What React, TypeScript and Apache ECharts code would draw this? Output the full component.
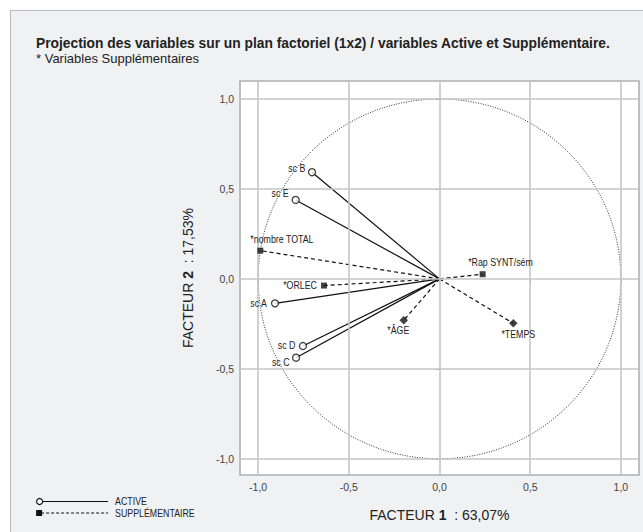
import React, { useEffect, useRef } from "react";
import * as echarts from "echarts";

const ACTIVE_NAMES = ["sc A", "sc B", "sc C", "sc D", "sc E"];
const ACTIVE_X = [-0.907, -0.703, -0.791, -0.753, -0.793];
const ACTIVE_Y = [-0.136, 0.593, -0.438, -0.373, 0.439];

const SUPP_NAMES = ["*nombre TOTAL", "*ORLEC", "*Rap SYNT/sém", "*ÂGE", "*TEMPS"];
const SUPP_X = [-0.988, -0.637, 0.238, -0.197, 0.407];
const SUPP_Y = [0.157, -0.037, 0.026, -0.23, -0.247];

const TICKS = [-1, -0.5, 0, 0.5, 1];

const TITLE = "Projection des variables sur un plan factoriel (1x2) / variables Active et Supplémentaire.";
const SUBTITLE = "* Variables Supplémentaires";
const X_NAME = ["FACTEUR ", "1", "  : 63,07%"];
const Y_NAME = ["FACTEUR ", "2", "  : 17,53%"];
const LEGEND = ["ACTIVE", "SUPPLÉMENTAIRE"];

const SANS = "'Liberation Sans', Arial, sans-serif";

// label placement (style only): pixel offset from the marker and alignment
const LABEL_POS: Record<string, { dx: number; dy: number; align: string }> = {
  "sc A": { dx: -8, dy: 0, align: "right" },
  "sc B": { dx: -6.5, dy: -4, align: "right" },
  "sc C": { dx: -6.5, dy: 5, align: "right" },
  "sc D": { dx: -7.5, dy: -1, align: "right" },
  "sc E": { dx: -7, dy: -6.5, align: "right" },
  "*nombre TOTAL": { dx: -10, dy: -11, align: "left" },
  "*ORLEC": { dx: -7, dy: 0, align: "right" },
  "*Rap SYNT/sém": { dx: -14.5, dy: -12, align: "left" },
  "*ÂGE": { dx: -5.5, dy: 10, align: "center" },
  "*TEMPS": { dx: 5, dy: 10.5, align: "center" },
};
const ROTATED = ["*ÂGE", "*TEMPS"];

const fmt = (v: number) => v.toFixed(1).replace(".", ",");

export default function App() {
  const ref = useRef<HTMLDivElement>(null);
  useEffect(() => {
    document.body.style.margin = "0";
    if (!ref.current) return;
    const chart = echarts.init(ref.current, undefined, { renderer: "svg" });

    const lineSeries: any[] = [];
    ACTIVE_NAMES.forEach((n, i) => {
      lineSeries.push({
        type: "line",
        name: n,
        data: [
          [0, 0],
          [ACTIVE_X[i], ACTIVE_Y[i]],
        ],
        symbol: "none",
        z: 3,
        silent: true,
        lineStyle: { color: "#111", width: 1.2, type: "solid" },
      });
    });
    SUPP_NAMES.forEach((n, i) => {
      lineSeries.push({
        type: "line",
        name: n,
        data: [
          [0, 0],
          [SUPP_X[i], SUPP_Y[i]],
        ],
        symbol: "none",
        z: 3,
        silent: true,
        lineStyle: { color: "#111", width: 1.2, type: [4, 3] },
      });
    });

    const activeScatter = {
      type: "scatter",
      z: 5,
      symbol: "circle",
      symbolSize: 7,
      itemStyle: { color: "#fff", borderColor: "#111", borderWidth: 1.3 },
      data: ACTIVE_NAMES.map((n, i) => [ACTIVE_X[i], ACTIVE_Y[i]]),
    };
    const suppScatter = {
      type: "scatter",
      z: 5,
      symbol: "rect",
      symbolSize: 6,
      itemStyle: { color: "#111" },
      data: SUPP_NAMES.map((n, i) => ({
        value: [SUPP_X[i], SUPP_Y[i]],
        symbolRotate: ROTATED.includes(n) ? 45 : 0,
      })),
    };

    const ALL_NAMES = [...ACTIVE_NAMES, ...SUPP_NAMES];
    const ALL_X = [...ACTIVE_X, ...SUPP_X];
    const ALL_Y = [...ACTIVE_Y, ...SUPP_Y];

    const labels = {
      type: "custom",
      z: 6,
      silent: true,
      data: ALL_NAMES.map((n, i) => [ALL_X[i], ALL_Y[i], i]),
      renderItem: (params: any, api: any) => {
        const c = api.coord([api.value(0), api.value(1)]);
        const name = ALL_NAMES[api.value(2)];
        const p = LABEL_POS[name];
        return {
          type: "text",
          x: c[0] + p.dx,
          y: c[1] + p.dy,
          scaleX: 0.84,
          style: {
            text: name,
            fontSize: 10.5,
            fontFamily: SANS,
            fill: "#222",
            align: p.align,
            verticalAlign: "middle",
          },
        };
      },
    };

    const gridLines = {
      type: "line",
      z: 1,
      silent: true,
      symbol: "none",
      data: [[0, 0]],
      lineStyle: { opacity: 0 },
      markLine: {
        silent: true,
        symbol: "none",
        animation: false,
        label: { show: false },
        lineStyle: { color: "#c6c6c6", width: 1.6, type: "solid" },
        data: [
          ...TICKS.map((t) => ({ xAxis: t })),
          ...TICKS.map((t) => ({ yAxis: t })),
        ],
      },
    };

    const unitCircle = {
      type: "custom",
      z: 2,
      silent: true,
      data: [[0, 0, 1]],
      renderItem: (params: any, api: any) => {
        const c = api.coord([api.value(0), api.value(1)]);
        const s = api.size([api.value(2), api.value(2)]);
        return {
          type: "ellipse",
          shape: { cx: c[0], cy: c[1], rx: s[0], ry: s[1] },
          style: { fill: "none", stroke: "#333", lineWidth: 1, lineDash: [1, 1.5] },
        };
      },
    };

    const richName = {
      a: { fontSize: 14, fontFamily: SANS, color: "#222" },
      b: { fontSize: 14, fontFamily: SANS, fontWeight: "bold", color: "#222" },
    };

    const axisCommon = {
      type: "value",
      splitLine: { show: false },
      axisLine: { show: false },
      axisTick: {
        show: true,
        customValues: TICKS,
        length: 4,
        lineStyle: { color: "#999", width: 1 },
      },
      axisLabel: {
        customValues: TICKS,
        formatter: (v: number) => fmt(v),
        color: "#444",
        fontSize: 10.5,
        fontFamily: SANS,
        margin: 6,
      },
    };

    chart.setOption({
      animation: false,
      backgroundColor: "transparent",
      title: {
        text: TITLE,
        subtext: SUBTITLE,
        left: 36,
        top: 36,
        padding: 0,
        itemGap: 2,
        textStyle: { fontSize: 13.8, fontWeight: "bold", color: "#222", fontFamily: SANS, lineHeight: 14 },
        subtextStyle: { fontSize: 13, color: "#222", fontFamily: SANS, lineHeight: 13 },
      },
      grid: {
        left: 240,
        top: 81,
        width: 399,
        height: 394,
        show: true,
        backgroundColor: "#fff",
        borderColor: "#b0b0b0",
        borderWidth: 1.6,
      },
      xAxis: {
        ...axisCommon,
        min: -1.1,
        max: 1.1,
        name: `{a|${X_NAME[0]}}{b|${X_NAME[1]}}{a|${X_NAME[2]}}`,
        nameLocation: "middle",
        nameGap: 33,
        nameTextStyle: { rich: richName },
      },
      yAxis: {
        ...axisCommon,
        min: -1.09,
        max: 1.1,
        name: `{a|${Y_NAME[0]}}{b|${Y_NAME[1]}}{a|${Y_NAME[2]}}`,
        nameLocation: "middle",
        nameRotate: 90,
        nameGap: 45,
        nameTextStyle: { rich: richName },
      },
      graphic: [
        {
          type: "group",
          left: 36,
          top: 496,
          children: [
            { type: "line", shape: { x1: 8, y1: 4, x2: 74, y2: 4 }, style: { stroke: "#111", lineWidth: 1.2 } },
            { type: "circle", shape: { cx: 5.5, cy: 4, r: 3 }, style: { fill: "#fff", stroke: "#111", lineWidth: 1.2 } },
            {
              type: "text",
              x: 81,
              y: 4,
              scaleX: 0.84,
              style: { text: LEGEND[0], fontSize: 10.5, fontFamily: SANS, fill: "#222", verticalAlign: "middle" },
            },
            { type: "line", shape: { x1: 7, y1: 15.5, x2: 74, y2: 15.5 }, style: { stroke: "#111", lineWidth: 1, lineDash: [3, 2] } },
            { type: "rect", shape: { x: 2, y: 12.5, width: 6, height: 6 }, style: { fill: "#111" } },
            {
              type: "text",
              x: 81,
              y: 16,
              scaleX: 0.84,
              style: { text: LEGEND[1], fontSize: 10.5, fontFamily: SANS, fill: "#222", verticalAlign: "middle" },
            },
          ],
        },
      ],
      series: [gridLines, unitCircle, ...lineSeries, activeScatter, suppScatter, labels],
    });
    return () => chart.dispose();
  }, []);

  return (
    <div style={{ position: "relative", width: 643, height: 532, background: "#fff", overflow: "hidden" }}>
      <div
        style={{
          position: "absolute",
          left: 10,
          top: 10,
          width: 660,
          height: 560,
          background: "#f0f1f3",
          border: "1.5px solid #b8b8b8",
        }}
      />
      <div ref={ref} style={{ position: "absolute", left: 0, top: 0, width: 643, height: 532 }} />
    </div>
  );
}
